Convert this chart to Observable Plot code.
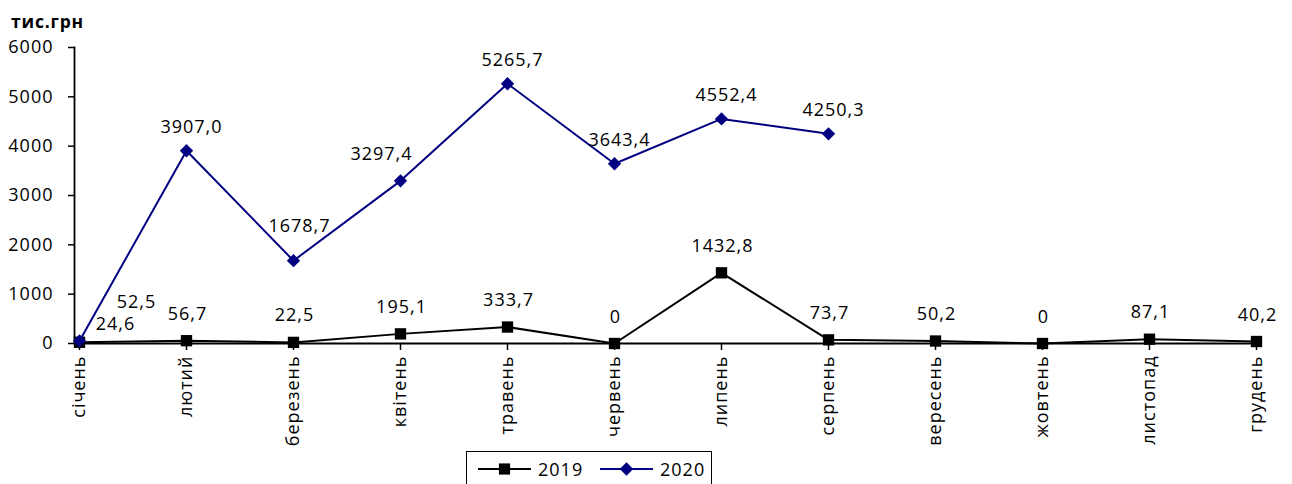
<!DOCTYPE html>
<html>
<head>
<meta charset="utf-8">
<script src="https://cdn.jsdelivr.net/npm/d3@7"></script>
<script src="https://cdn.jsdelivr.net/npm/@observablehq/plot@0.6"></script>
<style>
  html, body { margin: 0; padding: 0; background: #fff; }
  #wrap { position: relative; width: 1292px; height: 484px; overflow: hidden; font-family: 'Open Sans', sans-serif; }
  #title { position: absolute; left: 11px; top: 9px; font-size: 17.5px; font-weight: bold; letter-spacing: 0.8px; color: #000; }
  #legend { position: absolute; left: 466px; top: 451px; width: 246px; height: 40px; border: 1px solid #000; box-sizing: border-box; background: #fff; }
  #legend svg { position: absolute; left: 0; top: 0; }
</style>
</head>
<body>
<div id="wrap">
  <div id="chart"></div>
  <div id="title">тис.грн</div>
  <div id="legend"></div>
</div>
<script>
const months = ["січень","лютий","березень","квітень","травень","червень","липень","серпень","вересень","жовтень","листопад","грудень"];
const values2019 = [24.6, 56.7, 22.5, 195.1, 333.7, 0, 1432.8, 73.7, 50.2, 0, 87.1, 40.2];
const values2020 = [52.5, 3907.0, 1678.7, 3297.4, 5265.7, 3643.4, 4552.4, 4250.3];
const yTicks = [0, 1000, 2000, 3000, 4000, 5000, 6000];
const seriesNames = ["2019", "2020"];
const colors = ["#000000", "#000080"];

const d2019 = values2019.map((v, i) => ({month: months[i], v}));
const d2020 = values2020.map((v, i) => ({month: months[i], v}));
const fmt = v => v === 0 ? "0" : v.toFixed(1).replace(".", ",");

const font = {fontFamily: "'Open Sans', sans-serif", fontSize: "18px", letterSpacing: "1px", color: "#000", background: "#fff", overflow: "visible"};
const special2020 = ["січень", "березень", "квітень"];

const chart = Plot.plot({
  width: 1292,
  height: 484,
  marginLeft: 74,
  marginRight: 32,
  marginTop: 47,
  marginBottom: 141,
  style: font,
  x: {type: "point", domain: months, padding: 0},
  y: {domain: [0, 6000]},
  marks: [
    Plot.axisY({ticks: yTicks, tickSize: 6, tickPadding: 15, label: null, tickFormat: d => String(d), fontSize: 18, stroke: "#000", strokeWidth: 1.5}),
    Plot.axisX({tickSize: 7, tickRotate: -90, tickPadding: 5, label: null, fontSize: 18, stroke: "#000", strokeWidth: 1.5}),
    Plot.frame({anchor: "left", stroke: "#000", strokeWidth: 1.8}),
    Plot.ruleY([0], {stroke: "#000", strokeWidth: 2.2}),
    Plot.line(d2019, {x: "month", y: "v", stroke: colors[0], strokeWidth: 2}),
    Plot.dot(d2019, {x: "month", y: "v", symbol: "square", fill: colors[0], r: 6.4}),
    Plot.line(d2020, {x: "month", y: "v", stroke: colors[1], strokeWidth: 2}),
    Plot.dot(d2020, {x: "month", y: "v", symbol: d3.symbolDiamond2, fill: colors[1], r: 6}),
    Plot.text(d2019.slice(1), {x: "month", y: "v", text: d => fmt(d.v), lineAnchor: "bottom", dy: -21, dx: 1, fill: "#000", fontSize: 18}),
    Plot.text(d2020.filter(d => !special2020.includes(d.month)), {x: "month", y: "v", text: d => fmt(d.v), lineAnchor: "bottom", dy: -18, dx: 5, fill: "#000", fontSize: 18}),
    Plot.text(d2020.filter(d => d.month === "березень"), {x: "month", y: "v", text: d => fmt(d.v), lineAnchor: "bottom", dy: -29, dx: 6, fill: "#000", fontSize: 18}),
    Plot.text(d2020.filter(d => d.month === "квітень"), {x: "month", y: "v", text: d => fmt(d.v), lineAnchor: "bottom", dy: -21, dx: -19, fill: "#000", fontSize: 18}),
    Plot.text(d2019.slice(0, 1), {x: "month", y: "v", text: d => fmt(d.v), lineAnchor: "bottom", dy: -12, dx: 36, fill: "#000", fontSize: 18}),
    Plot.text(d2020.slice(0, 1), {x: "month", y: "v", text: d => fmt(d.v), lineAnchor: "bottom", dy: -33, dx: 57, fill: "#000", fontSize: 18})
  ]
});
document.getElementById("chart").appendChild(chart);

// legend
const lg = d3.select("#legend").append("svg").attr("width", 246).attr("height", 40)
  .style("font-family", "'Open Sans', sans-serif").style("font-size", "18px").style("letter-spacing", "1px");
const items = [
  {x1: 11, x2: 64, name: seriesNames[0], color: colors[0], sym: d3.symbolSquare, size: 125, tx: 71},
  {x1: 133, x2: 186, name: seriesNames[1], color: colors[1], sym: d3.symbolDiamond2, size: 115, tx: 193}
];
items.forEach(it => {
  lg.append("line").attr("x1", it.x1).attr("x2", it.x2).attr("y1", 17).attr("y2", 17).attr("stroke", it.color).attr("stroke-width", 2);
  lg.append("path").attr("d", d3.symbol(it.sym, it.size)()).attr("transform", `translate(${(it.x1 + it.x2) / 2},17)`).attr("fill", it.color);
  lg.append("text").attr("x", it.tx).attr("y", 24).attr("fill", "#000").text(it.name);
});
</script>
</body>
</html>
